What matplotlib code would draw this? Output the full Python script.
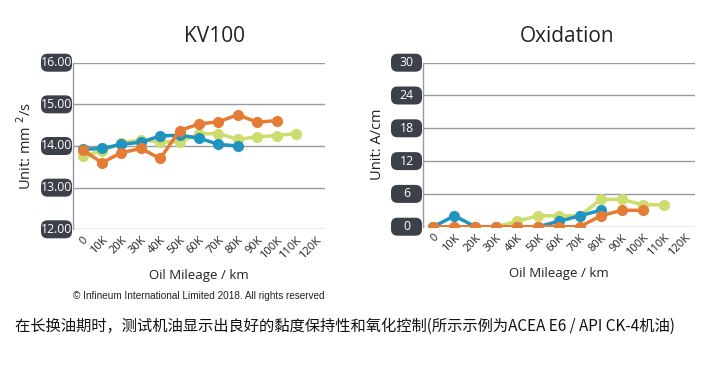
import matplotlib
matplotlib.use("Agg")
import matplotlib.pyplot as plt
from matplotlib.patches import FancyBboxPatch
from matplotlib.transforms import IdentityTransform

plt.rcParams['font.family'] = ['Open Sans', 'DejaVu Sans']

# ---- data ----
mileage_labels = ["0", "10K", "20K", "30K", "40K", "50K", "60K", "70K", "80K", "90K", "100K", "110K", "120K"]

kv_green = [13.77, 13.88, 14.08, 14.14, 14.10, 14.10, 14.29, 14.30, 14.16, 14.22, 14.25, 14.30]
kv_blue = [13.92, 13.94, 14.04, 14.09, 14.24, 14.26, 14.19, 14.04, 14.00]
kv_orange = [13.90, 13.60, 13.84, 13.94, 13.70, 14.37, 14.53, 14.58, 14.75, 14.57, 14.61]
kv_ticks = [12.00, 13.00, 14.00, 15.00, 16.00]

ox_green = [0, 0, 0, 0, 1, 2, 2, 2, 5, 5, 4, 4]
ox_blue = [0, 2, 0, 0, 0, 0, 1, 2, 3]
ox_orange = [0, 0, 0, 0, 0, 0, 0, 0, 2, 3, 3]
ox_ticks = [0, 6, 12, 18, 24, 30]

C_GREEN = "#cddc6c"
C_BLUE = "#1f94c0"
C_ORANGE = "#e57c35"
BOX = "#3b4049"
GRID = "#9a9a9a"

W, H = 720, 375
fig = plt.figure(figsize=(7.2, 3.75), dpi=100)
fig.patch.set_facecolor("white")

ax1 = fig.add_axes([73 / W, 1 - 229.3 / H, 252 / W, 166.6 / H])
ax2 = fig.add_axes([423 / W, 1 - 226.7 / H, 272 / W, 164 / H])


def style(ax, series, ticks, fmt, ylabel, title, title_x):
    for vals, col in series:
        ax.plot(range(len(vals)), vals, color=col, lw=2.5, marker="o",
                ms=7, mec=col, mfc=col, solid_capstyle="round", zorder=3)
    ax.set_xlim(-0.5, len(mileage_labels) - 0.5)
    ax.set_ylim(ticks[0], ticks[-1])
    ax.set_yticks(ticks)
    ax.set_yticklabels([])
    ax.tick_params(axis="y", length=0)
    ax.set_xticks(range(len(mileage_labels)))
    ax.set_xticklabels(mileage_labels, rotation=45, ha="right",
                       rotation_mode="anchor", fontsize=8, color="#222222")
    ax.tick_params(axis="x", length=0, pad=4)
    for s in ["top", "right", "bottom"]:
        ax.spines[s].set_visible(False)
    ax.spines["left"].set_color(GRID)
    ax.spines["left"].set_linewidth(1.0)
    ax.grid(axis="y", color=GRID, lw=1.0, zorder=0)
    ax.set_axisbelow(True)
    ax.set_xlabel("Oil Mileage / km", fontsize=9.5, color="#222222", labelpad=6)
    ax.set_ylabel(ylabel, fontsize=10.5, color="#222222", labelpad=24)
    fig.text(title_x / W, 1 - 37 / H, title, fontsize=15, ha="center",
             va="center", color="#222222")
    # rounded dark tick-label boxes
    fig.canvas.draw()
    x_left_disp = ax.transAxes.transform((0, 0))[0]
    for v in ticks:
        yd = ax.transData.transform((0, v))[1]
        bw, bh = 31, 18
        x0 = x_left_disp - 1.0 - bw
        p = FancyBboxPatch((x0, yd - bh / 2), bw, bh,
                           boxstyle="round,pad=0,rounding_size=6.5",
                           transform=IdentityTransform(), facecolor=BOX,
                           edgecolor="none", clip_on=False, zorder=5)
        fig.patches.append(p)
        p.set_figure(fig)
        fig.text((x0 + bw / 2) / W, yd / H, fmt(v), color="white",
                 fontsize=8.8, ha="center", va="center", zorder=6)


style(ax1, [(kv_green, C_GREEN), (kv_blue, C_BLUE), (kv_orange, C_ORANGE)],
      kv_ticks, lambda v: f"{v:.2f}", "Unit: mm $^{2}$/s", "KV100", 214)
style(ax2, [(ox_green, C_GREEN), (ox_blue, C_BLUE), (ox_orange, C_ORANGE)],
      ox_ticks, lambda v: f"{v:d}", "Unit: A/cm", "Oxidation", 567)

fig.text(199 / W, 1 - 296 / H,
         "© Infineum International Limited 2018. All rights reserved",
         fontsize=7.2, ha="center", va="center", color="#222222",
         family=["Liberation Sans Narrow", "Liberation Sans", "DejaVu Sans"])

fig.text(15 / W, 1 - 326 / H,
         "在长换油期时，测试机油显示出良好的黏度保持性和氧化控制(所示示例为ACEA E6 / API CK-4机油)",
         fontsize=11, ha="left", va="center", color="#111111",
         family=["Noto Sans CJK SC", "DejaVu Sans"])

fig.savefig("out.png", dpi=100, facecolor="white")
